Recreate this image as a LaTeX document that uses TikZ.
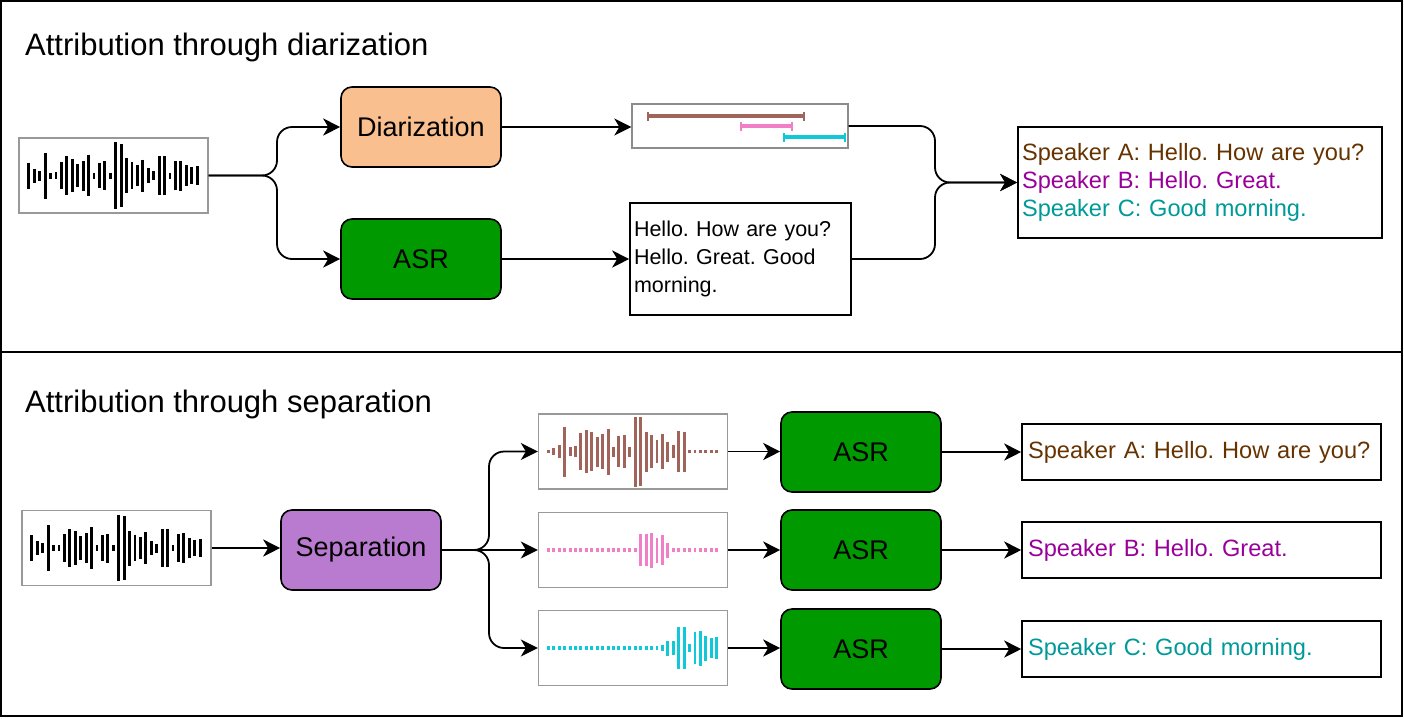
\documentclass[tikz,border=0pt]{standalone}
\usepackage{fontspec}
\setmainfont{Liberation Sans}
\usetikzlibrary{arrows.meta}
\usepackage{xcolor}
\frenchspacing

\definecolor{peach}{HTML}{F9BF8F}
\definecolor{asrgreen}{HTML}{009900}
\definecolor{seppurple}{HTML}{B97BCF}
\definecolor{wavebrown}{HTML}{A0645A}
\definecolor{wavepink}{HTML}{F07FC8}
\definecolor{wavecyan}{HTML}{10C8D8}
\definecolor{spkA}{HTML}{663300}
\definecolor{spkB}{HTML}{990099}
\definecolor{spkC}{HTML}{009999}

% bars of a waveform inside a wave box: node, colour, heights
\newcommand{\wavebars}[3]{%
  \foreach \h [count=\i from 0] in {#3}
    \draw[#2, line width=2.9pt] ([xshift=10.5pt+\i*5.43pt, yshift=\h/6*1pt]#1.west) -- ++(0,\h/3);
}

\begin{document}
\begin{tikzpicture}[x=1pt, y=-1pt,
  every node/.style={font=\fontsize{23.6}{28}\selectfont},
  title/.style={anchor=base west, inner sep=0pt, font=\fontsize{31}{36}\selectfont},
  wavebox/.style={draw=black!40, line width=1.3pt, minimum width=189pt, minimum height=75pt},
  block/.style={draw, line width=1.6pt, rounded corners=11pt, minimum width=160pt, minimum height=80pt, font=\fontsize{27}{30}\selectfont},
  textbox/.style={draw, line width=1.6pt, align=left, inner xsep=4pt},
  outbox/.style={draw, line width=1.6pt, align=left, inner xsep=6pt, minimum height=56pt, text width=347pt},
  conn/.style={line width=1.8pt, rounded corners=15pt, -{Stealth[length=17pt, width=17pt, inset=5pt]}},
  seg/.style={line width=3.4pt, {Bar[width=9pt, line width=1.8pt]}-{Bar[width=9pt, line width=1.8pt]}}]
\useasboundingbox (0,0) rectangle (1404,718);
\draw[line width=2pt] (1,1) rectangle (1402,716);
\draw[line width=1.5pt] (1,352) -- (1402,352);

% diarization
\node[title] (t1) at (25,55) {Attribution through diarization};
\node[wavebox] (w1) at (113.5,175.5) {};
\wavebars{w1}{black}{78,42,30,138,18,20,82,115,100,70,90,125,18,77,87,18,200,190,105,80,64,96,44,27,115,115,18,85,90,62,50,55}
\node[block, fill=peach] (diar) at (421,127) {Diarization};
\node[block, fill=asrgreen] (asr1) at (421,259) {ASR};
\node[draw=black!45, line width=1.3pt, minimum width=216pt, minimum height=44pt] (segs) at (740,126) {};
\draw[seg, wavebrown] (647,116) -- (805,116);
\draw[seg, wavepink] (740,126) -- (793,126);
\draw[seg, wavecyan] (783,137) -- (846,137);
\node[textbox, text width=213pt, minimum height=112pt, font=\fontsize{21.5}{28}\selectfont] (txt) at (740.5,259) {Hello. How are you?\\Hello. Great. Good\\morning.};
\node[textbox, text width=356pt, minimum height=111pt] (out1) at (1200,182.5) {\color{spkA}Speaker A: Hello. How are you?\\\color{spkB}Speaker B: Hello. Great.\\\color{spkC}Speaker C: Good morning.};
\coordinate (fork1) at (277,175.5);
\coordinate (merge1) at (935,182.5);
\draw[conn] (w1.east) -- (fork1) |- (diar.west);
\draw[conn] (w1.east) -- (fork1) |- (asr1.west);
\draw[conn] (diar.east) -- (diar.east -| segs.west);
\draw[conn] (asr1.east) -- (txt.west);
\draw[conn] (segs.east) -| (merge1) -- (out1.west);
\draw[conn] (txt.east) -| (merge1) -- (out1.west);

% separation
\node[title] (t2) at (25,412) {Attribution through separation};
\node[wavebox] (w2) at (116.5,548) {};
\wavebars{w2}{black}{78,42,30,138,18,20,82,115,100,70,90,125,18,77,87,18,200,190,105,80,64,96,44,27,115,115,18,85,90,62,50,55}
\node[block, fill=seppurple] (sep) at (361,550) {Separation};
\node[wavebox] (wa) at (633,451.5) {};
\node[wavebox] (wb) at (633,550) {};
\node[wavebox] (wc) at (633,648) {};
\wavebars{wa}{wavebrown}{10,20,40,150,28,35,110,130,115,90,105,138,30,95,100,30,210,205,120,100,70,105,60,40,125,120,10,10,10,10,10,10}
\wavebars{wb}{wavepink}{10,10,10,10,10,10,10,10,10,10,10,10,10,10,10,10,12,95,95,105,75,90,45,10,10,10,10,10,10,10,10,10}
\wavebars{wc}{wavecyan}{10,10,10,10,10,10,10,10,10,10,10,10,10,10,10,10,10,10,10,10,10,20,45,40,125,125,25,95,105,75,60,65}
\node[block, fill=asrgreen] (asrA) at (861,452) {ASR};
\node[block, fill=asrgreen] (asrB) at (861,550) {ASR};
\node[block, fill=asrgreen] (asrC) at (861,649) {ASR};
\node[outbox, text=spkA] (outA) at (1201.5,452) {Speaker A: Hello. How are you?};
\node[outbox, text=spkB] (outB) at (1201.5,550) {Speaker B: Hello. Great.};
\node[outbox, text=spkC] (outC) at (1201.5,649) {Speaker C: Good morning.};
\coordinate (fork2) at (489,550);
\draw[conn] (w2.east) -- (w2.east -| sep.west);
\draw[conn] (sep.east) -- (fork2) |- (wa.west);
\draw[conn] (sep.east) -- (wb.west);
\draw[conn] (sep.east) -- (fork2) |- (wc.west);
\foreach \r in {a,b,c}
  \draw[conn] (w\r.east) -- (w\r.east -| asrA.west);
\draw[conn] (asrA.east) -- (outA.west);
\draw[conn] (asrB.east) -- (outB.west);
\draw[conn] (asrC.east) -- (outC.west);
\end{tikzpicture}
\end{document}
